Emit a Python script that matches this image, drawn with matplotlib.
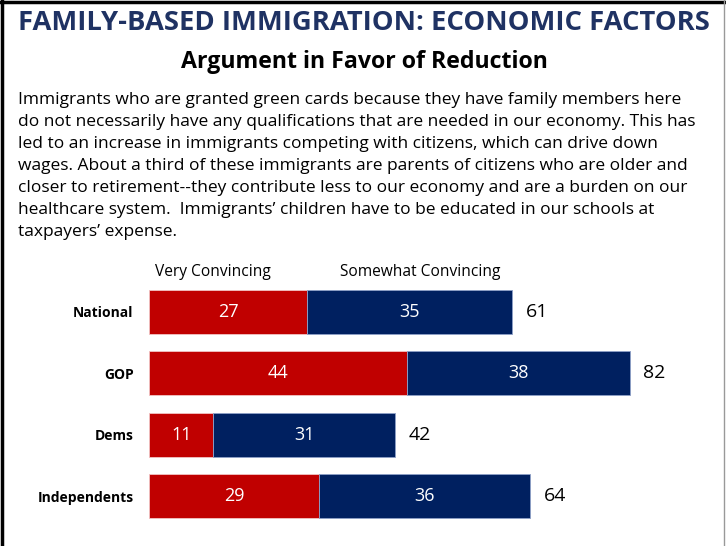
import matplotlib.pyplot as plt
from matplotlib.lines import Line2D

groups = ["National", "GOP", "Dems", "Independents"]
very = [27, 44, 11, 29]
somewhat = [35, 38, 31, 36]
total = [61, 82, 42, 64]
series_names = ["Very Convincing", "Somewhat Convincing"]

title = "FAMILY-BASED IMMIGRATION: ECONOMIC FACTORS"
subtitle = "Argument in Favor of Reduction"
para = ("Immigrants who are granted green cards because they have family members here\n"
        "do not necessarily have any qualifications that are needed in our economy. This has\n"
        "led to an increase in immigrants competing with citizens, which can drive down\n"
        "wages. About a third of these immigrants are parents of citizens who are older and\n"
        "closer to retirement--they contribute less to our economy and are a burden on our\n"
        "healthcare system.  Immigrants\u2019 children have to be educated in our schools at\n"
        "taxpayers\u2019 expense.")

red = "#C00000"
navy = "#002060"
W, H = 726, 546

plt.rcParams['font.family'] = ['Open Sans', 'DejaVu Sans']
fig = plt.figure(figsize=(W / 100, H / 100), dpi=100)

fig.text(364 / W, 1 - 23 / H, title, ha="center", va="center", fontsize=19.7,
         fontweight="bold", color="#1F3263")
fig.text(364 / W, 1 - 62 / H, subtitle, ha="center", va="center", fontsize=16.7,
         fontweight="bold", color="black")
fig.text(18 / W, 1 - 92 / H, para, ha="left", va="top", fontsize=12.5,
         color="black", linespacing=1.5)

ax = fig.add_axes([149 / W, 1 - 527 / H, (724 - 149) / W, 246 / H])
ypos = list(range(len(groups)))
ax.barh(ypos, very, height=0.72, color=red, edgecolor="#f2c4c4", linewidth=0.6)
ax.barh(ypos, somewhat, left=very, height=0.72, color=navy, edgecolor="#8ea0c8", linewidth=0.6)
for i in ypos:
    ax.text(very[i] / 2, i, str(very[i]), ha="center", va="center", color="white", fontsize=13)
    ax.text(very[i] + somewhat[i] / 2, i, str(somewhat[i]), ha="center", va="center",
            color="white", fontsize=13)
    ax.annotate(str(total[i]), (very[i] + somewhat[i], i), xytext=(10, 0),
                textcoords="offset points", ha="left", va="center", fontsize=14, color="black")
ax.set_xlim(0, (724 - 149) / 5.86)
ax.set_ylim(3.5, -0.5)
ax.set_yticks(ypos)
ax.set_yticklabels(groups, fontweight="bold", fontsize=10)
ax.tick_params(axis="y", length=0, pad=11)
ax.set_xticks([])
for s in ax.spines.values():
    s.set_visible(False)

fig.text(213 / W, 1 - 272 / H, series_names[0], ha="center", va="center", fontsize=11.2)
fig.text(420 / W, 1 - 272 / H, series_names[1], ha="center", va="center", fontsize=11.2)

fig.add_artist(Line2D([1.5 / W, 1.5 / W], [0, 1], color="black", lw=2.5))
fig.add_artist(Line2D([0, 1], [1 - 1.5 / H, 1 - 1.5 / H], color="black", lw=2.5))
fig.add_artist(Line2D([724 / W, 724 / W], [0, 1], color="#999999", lw=1))

fig.savefig("out.png", dpi=100)
